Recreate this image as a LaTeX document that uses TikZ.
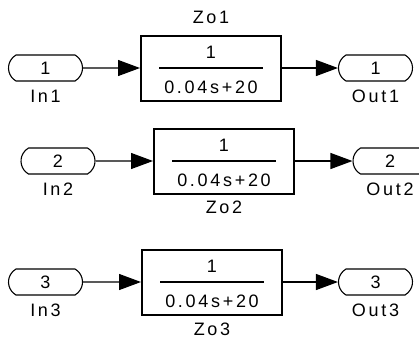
\documentclass[tikz,border=0pt]{standalone}
\usepackage{fontspec}
\setmainfont{Liberation Sans}[LetterSpace=15]
\usetikzlibrary{arrows.meta,shapes.misc,positioning}

\begin{document}
\begin{tikzpicture}[x=1pt,y=-1pt,
  port/.style={draw,rounded rectangle,rounded rectangle arc length=120,minimum width=74pt,minimum height=26pt,inner sep=0pt,line width=1.1pt},
  tfbox/.style={draw,rectangle,minimum width=140pt,minimum height=65pt,line width=2pt},
  sig/.style={line width=1.2pt,-{Triangle[length=22pt,width=16pt]}},
  txt/.style={font=\fontsize{18}{20}\selectfont,inner sep=0pt}]
\useasboundingbox (0,0) rectangle (419,338);
\clip (0,0) rectangle (419,338);
\foreach \n/\xi/\xb/\xo/\y in {1/45.5/211/375.5/68, 2/58/224/390/161, 3/45.5/212/375.5/282}{
  \node[port,txt] (in\n) at (\xi,\y) {\n};
  \node[tfbox] (zo\n) at (\xb,\y) {};
  \node[port,txt] (out\n) at (\xo,\y) {\n};
  \node[txt,below=8pt of in\n] (inlbl\n) {In\n};
  \node[txt,below=8pt of out\n] (outlbl\n) {Out\n};
  % transfer function inside the block
  \node[txt] (num\n) at ([yshift=16pt]zo\n.center) {1};
  \node[txt] (den\n) at ([yshift=-19pt]zo\n.center) {0.04s+20};
  \draw[line width=1.3pt] ([xshift=19pt]zo\n.west) -- ([xshift=-19pt]zo\n.east);
  \draw[sig] (in\n) -- (zo\n);
  \draw[sig] (zo\n) -- (out\n);
}
\node[txt,above=11pt of zo1] (zolbl1) {Zo1};
\node[txt,below=6pt of zo2] (zolbl2) {Zo2};
\node[txt,below=7pt of zo3] (zolbl3) {Zo3};
\end{tikzpicture}
\end{document}
